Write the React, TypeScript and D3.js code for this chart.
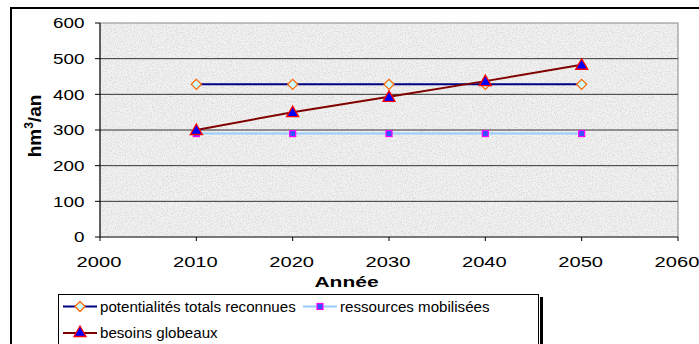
import React from "react";
import * as d3 from "d3";

const years = [2010, 2020, 2030, 2040, 2050];
const potentialites = [428, 428, 428, 428, 428];
const ressources = [290, 290, 290, 290, 290];
const besoins = [300, 350, 393, 437, 483];
const xTicks = [2000, 2010, 2020, 2030, 2040, 2050, 2060];
const yTicks = [0, 100, 200, 300, 400, 500, 600];

const W = 699, H = 344;
const x = d3.scaleLinear().domain([2000, 2060]).range([100, 678]);
const y = d3.scaleLinear().domain([0, 600]).range([237, 23]);
const font = "'Liberation Sans', Arial, sans-serif";

function SText({ x, y, sx, size, anchor = "start", bold = false, children }: any) {
  return (
    <text transform={`translate(${x},${y}) scale(${sx},1)`} textAnchor={anchor} fontSize={size} fontWeight={bold ? "bold" : "normal"}>
      {children}
    </text>
  );
}

function Diamond({ cx, cy }: { cx: number; cy: number }) {
  const r = 5;
  return <path d={`M${cx},${cy - r}L${cx + r},${cy}L${cx},${cy + r}L${cx - r},${cy}Z`} fill="#ccffff" stroke="#ff6600" strokeWidth={1.3} />;
}
function Square({ cx, cy }: { cx: number; cy: number }) {
  return <rect x={cx - 3} y={cy - 3} width={6} height={6} fill="#3355ff" stroke="#ff00ff" strokeWidth={1.2} />;
}
function Triangle({ cx, cy }: { cx: number; cy: number }) {
  const r = 6;
  return <path d={`M${cx},${cy - r}L${cx + r},${cy + r * 0.75}L${cx - r},${cy + r * 0.75}Z`} fill="#0000ff" stroke="#ff0000" strokeWidth={1.3} />;
}

export default function App() {
  const line = d3.line<number>().x((_, i) => x(years[i])).y((v) => y(v));
  const pw = x(2060) - x(2000), ph = y(0) - y(600);
  return (
    <svg width={W} height={H} style={{ position: "absolute", left: 0, top: 0, background: "#fff" }} fontFamily={font}>
      <defs>
        <filter id="noise" x="0" y="0" width="100%" height="100%">
          <feTurbulence type="fractalNoise" baseFrequency="0.8" numOctaves={2} seed={3} result="t" />
          <feColorMatrix type="matrix" values="0 0 0 0 0.6  0 0 0 0 0.6  0 0 0 0 0.6  0 0 0 -1.6 0.95" in="t" result="n" />
          <feComposite in="n" in2="SourceGraphic" operator="in" />
        </filter>
      </defs>
      {/* outer border */}
      <rect x={11} y={8} width={W} height={H} fill="#fff" stroke="#000" strokeWidth={2} />
      {/* plot area */}
      <rect x={x(2000)} y={y(600)} width={pw} height={ph} fill="#f2f2f2" />
      <rect x={x(2000)} y={y(600)} width={pw} height={ph} fill="#fff" filter="url(#noise)" />
      <rect x={x(2000)} y={y(600)} width={pw} height={ph} fill="none" stroke="#999" strokeWidth={1.2} />
      {/* gridlines */}
      {yTicks.filter((t) => t > 0 && t < 600).map((t) => (
        <line key={t} x1={x(2000)} x2={x(2060)} y1={y(t)} y2={y(t)} stroke="#333" strokeWidth={1} />
      ))}
      {/* axes */}
      <line x1={x(2000)} x2={x(2000)} y1={y(600)} y2={y(0)} stroke="#000" strokeWidth={1} />
      <line x1={x(2000)} x2={x(2060)} y1={y(0)} y2={y(0)} stroke="#333" strokeWidth={1.2} />
      {yTicks.map((t) => (
        <g key={t}>
          <line x1={x(2000) - 5} x2={x(2000)} y1={y(t)} y2={y(t)} stroke="#000" />
          <SText x={x(2000) - 15.5} y={y(t) + 5.2} sx={1.3} size={14.5} anchor="end">{t}</SText>
        </g>
      ))}
      {xTicks.map((t) => (
        <g key={t}>
          <line x1={x(t)} x2={x(t)} y1={y(0)} y2={y(0) + 4} stroke="#000" />
          <SText x={x(t) - 1} y={266.5} sx={1.3} size={15.5} anchor="middle">{t}</SText>
        </g>
      ))}
      <SText x={346.5} y={287} sx={1.4} size={15} anchor="middle" bold>Année</SText>
      <text transform={`translate(41,126) rotate(-90)`} textAnchor="middle" fontSize={19} fontWeight="bold">
        hm<tspan dy={-8} fontSize={12}>3</tspan><tspan dy={8}>/an</tspan>
      </text>
      {/* series */}
      <path d={line(ressources) || ""} fill="none" stroke="#99ccff" strokeWidth={2} />
      <path d={line(potentialites) || ""} fill="none" stroke="#000080" strokeWidth={2} />
      <path d={line(besoins) || ""} fill="none" stroke="#800000" strokeWidth={2} />
      {years.map((yr, i) => <Square key={"s" + i} cx={x(yr)} cy={y(ressources[i])} />)}
      {years.map((yr, i) => <Diamond key={"d" + i} cx={x(yr)} cy={y(potentialites[i])} />)}
      {years.map((yr, i) => <Triangle key={"t" + i} cx={x(yr)} cy={y(besoins[i])} />)}
      {/* legend */}
      <rect x={540} y={297} width={3} height={60} fill="#000" />
      <rect x={58.5} y={294.5} width={480} height={60} fill="#fff" stroke="#000" strokeWidth={1} />
      <line x1={63} x2={97} y1={306.5} y2={306.5} stroke="#000080" strokeWidth={2} />
      <Diamond cx={80} cy={306.5} />
      <SText x={100} y={311.5} sx={1.08} size={14}>potentialités totals reconnues</SText>
      <line x1={303} x2={337} y1={306.5} y2={306.5} stroke="#99ccff" strokeWidth={2} />
      <Square cx={320} cy={306.5} />
      <SText x={340} y={311.5} sx={1.08} size={14}>ressources mobilisées</SText>
      <line x1={63} x2={97} y1={333} y2={333} stroke="#800000" strokeWidth={2} />
      <Triangle cx={80} cy={332} />
      <SText x={100} y={338} sx={1.08} size={14}>besoins globeaux</SText>
    </svg>
  );
}
